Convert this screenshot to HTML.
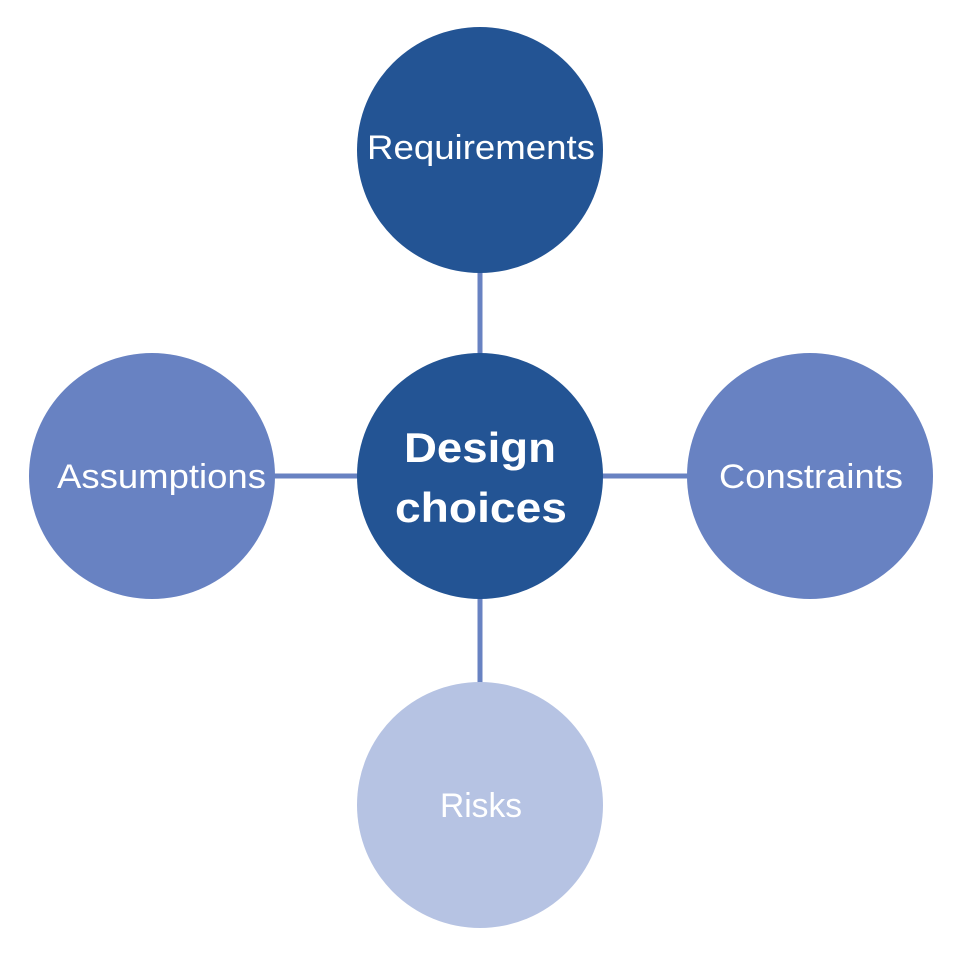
<!DOCTYPE html>
<html><head><style>html,body{margin:0;padding:0;background:#fff}</style></head>
<body>
<svg width="962" height="957" viewBox="0 0 962 957" xmlns="http://www.w3.org/2000/svg">
<g stroke="#6882c2" stroke-width="5">
<line x1="480" y1="270" x2="480" y2="356"/>
<line x1="480" y1="596" x2="480" y2="685"/>
<line x1="272" y1="476" x2="360" y2="476"/>
<line x1="600" y1="476" x2="690" y2="476"/>
</g>
<circle cx="480" cy="150" r="123" fill="#235494"/>
<circle cx="480" cy="476" r="123" fill="#235494"/>
<circle cx="152" cy="476" r="123" fill="#6882c2"/>
<circle cx="810" cy="476" r="123" fill="#6882c2"/>
<circle cx="480" cy="805" r="123" fill="#b6c3e3"/>
<g fill="#fff" font-family="Liberation Sans, sans-serif" font-size="34">
<text x="367" y="159" textLength="228" lengthAdjust="spacingAndGlyphs">Requirements</text>
<text x="57" y="488" textLength="209" lengthAdjust="spacingAndGlyphs">Assumptions</text>
<text x="719" y="488" textLength="184" lengthAdjust="spacingAndGlyphs">Constraints</text>
<text x="440" y="817" textLength="82" lengthAdjust="spacingAndGlyphs">Risks</text>
<text x="404" y="462" font-weight="bold" font-size="42" textLength="152" lengthAdjust="spacingAndGlyphs">Design</text>
<text x="395" y="522" font-weight="bold" font-size="42" textLength="172" lengthAdjust="spacingAndGlyphs">choices</text>
</g>
</svg>
</body></html>
